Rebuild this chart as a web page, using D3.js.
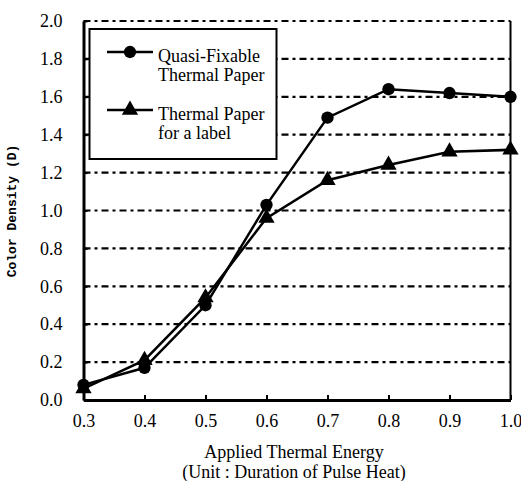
<!DOCTYPE html>
<html>
<head>
<meta charset="utf-8">
<script src="https://cdn.jsdelivr.net/npm/d3@7"></script>
<style>
    body { margin: 0; background: #fff; }
</style>
</head>
<body>
<div id="chart"></div>
<script>
// chart values
var energy = [0.3, 0.4, 0.5, 0.6, 0.7, 0.8, 0.9, 1.0];
var quasiFixable = [0.08, 0.17, 0.50, 1.03, 1.49, 1.64, 1.62, 1.60];
var labelPaper = [0.06, 0.21, 0.54, 0.96, 1.16, 1.24, 1.31, 1.32];
var xTicks = [0.3, 0.4, 0.5, 0.6, 0.7, 0.8, 0.9, 1.0];
var yTicks = [0.0, 0.2, 0.4, 0.6, 0.8, 1.0, 1.2, 1.4, 1.6, 1.8, 2.0];
var seriesNames = [["Quasi-Fixable", "Thermal Paper"], ["Thermal Paper", "for a label"]];

(function () {
    var W = 521, H = 481;
    var serif = "'Liberation Serif', 'DejaVu Serif', serif";
    var margin = {top: 21, right: 10.5, bottom: 81, left: 83.5},
        width = W - margin.left - margin.right,
        height = H - margin.top - margin.bottom;

    var x = d3.scaleLinear().domain([0.3, 1.0]).range([0, width]);
    var y = d3.scaleLinear().domain([0, 2]).range([height, 0]);

    var svg = d3.select("#chart").append("svg")
        .attr("width", W)
        .attr("height", H);

    var g = svg.append("g")
        .attr("transform", "translate(" + margin.left + "," + margin.top + ")");

    // dashed grid
    g.append("g")
        .selectAll("line")
        .data(yTicks.filter(function (d) { return d > 0; }))
        .enter().append("line")
        .attr("x1", 0).attr("x2", width)
        .attr("y1", function (d) { return y(d); })
        .attr("y2", function (d) { return y(d); })
        .attr("stroke", "#000")
        .attr("stroke-width", 2.2)
        .attr("stroke-dasharray", "7,4,3,4");

    // frame: thin top, right, thick left/bottom
    g.append("line").attr("x1", width).attr("x2", width).attr("y1", 0).attr("y2", height)
        .attr("stroke", "#000").attr("stroke-width", 2);

    // axes
    var xAxis = g.append("g")
        .attr("transform", "translate(0," + height + ")")
        .call(d3.axisBottom(x).tickValues(xTicks).tickSizeInner(-5).tickSizeOuter(0)
            .tickPadding(14).tickFormat(d3.format(".1f")));
    xAxis.select(".domain").attr("stroke-width", 3);
    xAxis.selectAll(".tick line").attr("stroke-width", 2);
    xAxis.selectAll("text").style("font-size", "18px").style("font-family", serif);

    var yAxis = g.append("g")
        .call(d3.axisLeft(y).tickValues(yTicks).tickSizeInner(-4).tickSizeOuter(0)
            .tickPadding(21).tickFormat(d3.format(".1f")));
    yAxis.select(".domain").attr("stroke-width", 3);
    yAxis.selectAll(".tick line").attr("stroke-width", 2);
    yAxis.selectAll("text").style("font-size", "18px").style("font-family", serif);

    // series
    var line = d3.line()
        .x(function (d) { return x(d[0]); })
        .y(function (d) { return y(d[1]); });

    var circleData = d3.zip(energy, quasiFixable);
    var triData = d3.zip(energy, labelPaper);

    g.append("path").datum(circleData).attr("d", line)
        .attr("fill", "none").attr("stroke", "#000").attr("stroke-width", 2.5);
    g.append("path").datum(triData).attr("d", line)
        .attr("fill", "none").attr("stroke", "#000").attr("stroke-width", 2.5);

    var circleSym = d3.symbol().type(d3.symbolCircle).size(120);
    var triSym = d3.symbol().type(d3.symbolTriangle).size(115);

    g.selectAll(".pt1").data(circleData).enter().append("path")
        .attr("class", "pt1")
        .attr("d", circleSym)
        .attr("transform", function (d) { return "translate(" + x(d[0]) + "," + y(d[1]) + ")"; });
    g.selectAll(".pt2").data(triData).enter().append("path")
        .attr("class", "pt2")
        .attr("d", triSym)
        .attr("transform", function (d) { return "translate(" + x(d[0]) + "," + y(d[1]) + ")"; });

    // legend
    var lg = svg.append("g");
    lg.append("rect")
        .attr("x", 89.5).attr("y", 29)
        .attr("width", 187).attr("height", 130)
        .attr("fill", "#fff").attr("stroke", "#000").attr("stroke-width", 2);

    var entries = [{y: 52, sym: circleSym}, {y: 110, sym: triSym}];
    entries.forEach(function (e, i) {
        lg.append("line").attr("x1", 107).attr("x2", 153).attr("y1", e.y).attr("y2", e.y)
            .attr("stroke", "#000").attr("stroke-width", 2.5);
        lg.append("path").attr("d", e.sym).attr("transform", "translate(130," + e.y + ")");
        seriesNames[i].forEach(function (t, j) {
            lg.append("text")
                .attr("x", 158).attr("y", e.y + 10 + j * 19)
                .style("font-family", serif).style("font-size", "18px")
                .text(t);
        });
    });

    // axis titles
    svg.append("text")
        .attr("x", 294).attr("y", 458)
        .attr("text-anchor", "middle")
        .style("font-family", serif).style("font-size", "18px")
        .text("Applied Thermal Energy");
    svg.append("text")
        .attr("x", 294).attr("y", 478)
        .attr("text-anchor", "middle")
        .style("font-family", serif).style("font-size", "18px")
        .text("(Unit : Duration of Pulse Heat)");

    svg.append("text")
        .attr("transform", "translate(16,211) rotate(-90)")
        .attr("text-anchor", "middle")
        .style("font-family", "'Liberation Mono', monospace")
        .style("font-weight", "bold")
        .style("font-size", "13px")
        .text("Color Density (D)");
}());
</script>
</body>
</html>
